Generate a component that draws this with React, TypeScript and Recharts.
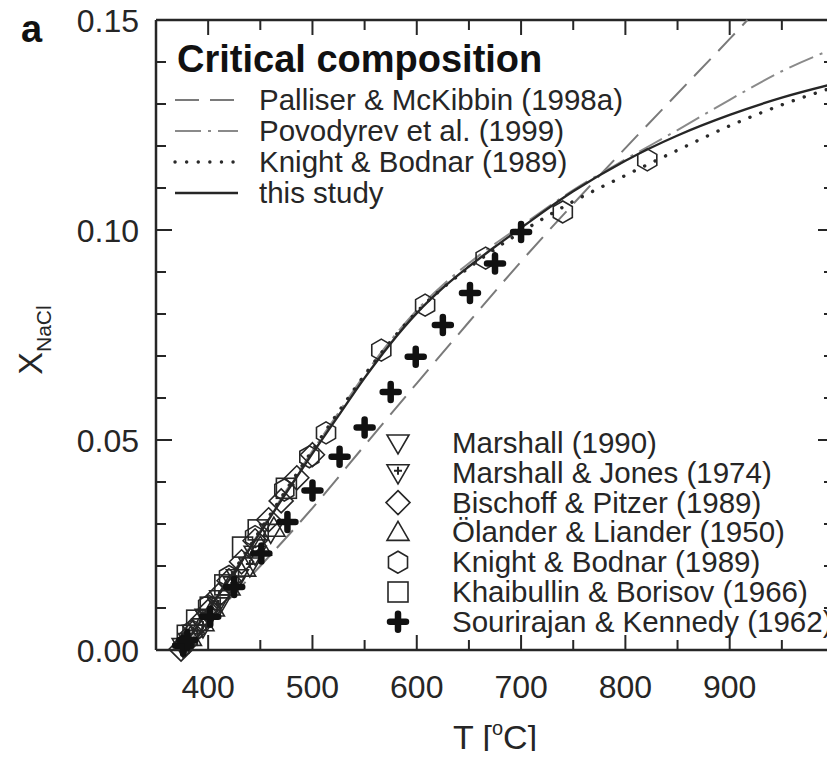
import { ComposedChart, Line, Scatter, XAxis, YAxis, ReferenceLine } from "recharts";

const FONT = "'Liberation Sans', Arial, Helvetica, sans-serif";
const INK = "#262626";

// plot box in page pixels
const W = 835;
const H = 759;
const BOX = { left: 156, right: 834, top: 20, bottom: 650 };

// axis ticks
const T_TICKS = [400, 450, 500, 550, 600, 650, 700, 750, 800, 850, 900, 950];
const T_LABELED = [400, 500, 600, 700, 800, 900];
const X_TICKS = [0, 0.01, 0.02, 0.03, 0.04, 0.05, 0.06, 0.07, 0.08, 0.09, 0.1, 0.11, 0.12, 0.13, 0.14, 0.15];
const X_LABELED = ["0.00", "0.05", "0.10", "0.15"];

// critical curves, T [°C] -> X_NaCl
const CURVE_T = [374, 400, 425, 450, 475, 500, 525, 550, 575, 600, 625, 650, 675, 700, 750, 800, 850, 900, 950, 1000];
const THIS_STUDY = [0, 0.0095, 0.0185, 0.028, 0.0375, 0.0468, 0.0558, 0.0648, 0.073, 0.0802, 0.0862, 0.0913, 0.096, 0.1005, 0.1092, 0.1165, 0.1225, 0.1274, 0.1315, 0.1348];
const POVODYREV = [0, 0.0096, 0.0188, 0.0284, 0.038, 0.0474, 0.0565, 0.0655, 0.0737, 0.0809, 0.0869, 0.0921, 0.0967, 0.101, 0.1095, 0.1168, 0.1238, 0.131, 0.1378, 0.1432];
const KNIGHT_FIT = [0, 0.0097, 0.019, 0.0286, 0.0382, 0.0476, 0.0567, 0.0655, 0.0735, 0.0805, 0.0862, 0.091, 0.0955, 0.0995, 0.1068, 0.113, 0.119, 0.1248, 0.1298, 0.134];
const PALLISER_T = [374, 400, 450, 500, 550, 600, 650, 700, 750, 800, 850, 900, 917];
const PALLISER = [0, 0.0068, 0.02, 0.0338, 0.0487, 0.0635, 0.0781, 0.0925, 0.1062, 0.1195, 0.1325, 0.1455, 0.15];

// experimental data
const MARSHALL90_T = [376, 386, 398, 412, 428, 445, 460];
const MARSHALL90_X = [0.0008, 0.004, 0.0078, 0.0122, 0.0172, 0.0228, 0.028];
const MARSHALL74_T = [382, 395, 410, 425, 440];
const MARSHALL74_X = [0.002, 0.0055, 0.0105, 0.0155, 0.02];
const BISCHOFF_T = [374, 378, 385, 392, 400, 410, 420, 432, 445, 458, 470, 485, 500];
const BISCHOFF_X = [0.0002, 0.0015, 0.004, 0.0065, 0.0092, 0.013, 0.0165, 0.021, 0.026, 0.031, 0.0355, 0.041, 0.0465];
const OLANDER_T = [383, 395, 405, 420, 435, 450, 463];
const OLANDER_X = [0.003, 0.0065, 0.01, 0.015, 0.0195, 0.0245, 0.029];
const KNIGHT_T = [385, 400, 420, 445, 473, 497, 513, 566, 608, 666, 740, 821];
const KNIGHT_X = [0.0045, 0.0105, 0.0175, 0.027, 0.0381, 0.046, 0.0517, 0.0714, 0.0821, 0.0933, 0.1043, 0.1167];
const KHAIBULLIN_T = [380, 389, 402, 416, 433, 448, 475];
const KHAIBULLIN_X = [0.0035, 0.0071, 0.0102, 0.0155, 0.0245, 0.0286, 0.0385];
const SOURIRAJAN_T = [376, 380, 402, 425, 451, 476, 500, 526, 550, 575, 599, 625, 651, 675, 700];
const SOURIRAJAN_X = [0.001, 0.0024, 0.0079, 0.015, 0.023, 0.0305, 0.038, 0.046, 0.053, 0.0614, 0.0698, 0.0774, 0.085, 0.092, 0.0995];

const zip = (ts: number[], xs: number[]) => ts.map((t, i) => ({ t, x: xs[i] }));

const OPEN = { stroke: INK, strokeWidth: 1.6, fill: "none" };

function Hexagon({ cx = 0, cy = 0 }: any) {
  const r = 11;
  const pts = [0, 1, 2, 3, 4, 5]
    .map((k) => {
      const a = Math.PI / 2 + (k * Math.PI) / 3;
      return `${cx + r * Math.cos(a)},${cy + r * Math.sin(a)}`;
    })
    .join(" ");
  return <polygon points={pts} {...OPEN} />;
}
function Square({ cx = 0, cy = 0 }: any) {
  return <rect x={cx - 10} y={cy - 10} width={20} height={20} {...OPEN} />;
}
function Diamond({ cx = 0, cy = 0 }: any) {
  return <polygon points={`${cx},${cy - 12} ${cx + 12},${cy} ${cx},${cy + 12} ${cx - 12},${cy}`} {...OPEN} />;
}
function TriUp({ cx = 0, cy = 0 }: any) {
  return <polygon points={`${cx},${cy - 11} ${cx + 11},${cy + 8} ${cx - 11},${cy + 8}`} {...OPEN} />;
}
function TriDown({ cx = 0, cy = 0 }: any) {
  return <polygon points={`${cx - 11},${cy - 8} ${cx + 11},${cy - 8} ${cx},${cy + 11}`} {...OPEN} />;
}
function TriDownPlus({ cx = 0, cy = 0 }: any) {
  return (
    <g>
      <polygon points={`${cx - 11},${cy - 8} ${cx + 11},${cy - 8} ${cx},${cy + 11}`} {...OPEN} />
      <path d={`M${cx - 4},${cy - 2}H${cx + 4}M${cx},${cy - 6}V${cy + 2}`} stroke={INK} strokeWidth={2} />
    </g>
  );
}
function Plus({ cx = 0, cy = 0 }: any) {
  return (
    <path
      d={`M${cx - 8},${cy}H${cx + 8}M${cx},${cy - 8}V${cy + 8}`}
      stroke="#111"
      strokeWidth={6.5}
      strokeLinecap="round"
    />
  );
}

const MARKER_SERIES = [
  { name: "Marshall (1990)", shape: TriDown, data: zip(MARSHALL90_T, MARSHALL90_X) },
  { name: "Marshall & Jones (1974)", shape: TriDownPlus, data: zip(MARSHALL74_T, MARSHALL74_X) },
  { name: "Bischoff & Pitzer (1989)", shape: Diamond, data: zip(BISCHOFF_T, BISCHOFF_X) },
  { name: "Ölander & Liander (1950)", shape: TriUp, data: zip(OLANDER_T, OLANDER_X) },
  { name: "Knight & Bodnar (1989)", shape: Hexagon, data: zip(KNIGHT_T, KNIGHT_X) },
  { name: "Khaibullin & Borisov (1966)", shape: Square, data: zip(KHAIBULLIN_T, KHAIBULLIN_X) },
  { name: "Sourirajan & Kennedy (1962)", shape: Plus, data: zip(SOURIRAJAN_T, SOURIRAJAN_X) },
];

const LINE_SERIES = [
  { name: "Palliser & McKibbin (1998a)", data: zip(PALLISER_T, PALLISER), stroke: "#7a7a7a", width: 2, dash: "24 11", cap: "butt" },
  { name: "Povodyrev et al. (1999)", data: zip(CURVE_T, POVODYREV), stroke: "#8a8a8a", width: 2, dash: "26 7 3 7", cap: "butt" },
  { name: "Knight & Bodnar (1989)", data: zip(CURVE_T, KNIGHT_FIT), stroke: "#2a2a2a", width: 3.4, dash: "0.1 11.5", cap: "round" },
  { name: "this study", data: zip(CURVE_T, THIS_STUDY), stroke: "#262626", width: 2.4, dash: undefined, cap: "butt" },
];

function XTick({ x, payload }: any) {
  const major = T_LABELED.includes(payload.value);
  const len = major ? 15 : 10;
  return (
    <g>
      <line x1={x} x2={x} y1={BOX.bottom} y2={BOX.bottom - len} stroke={INK} strokeWidth={2} />
      <line x1={x} x2={x} y1={BOX.top} y2={BOX.top + len} stroke={INK} strokeWidth={2} />
      {major && (
        <text x={x} y={698} textAnchor="middle" fontSize={32} fontFamily={FONT} fill={INK}>
          {payload.value}
        </text>
      )}
    </g>
  );
}

function YTick({ y, payload }: any) {
  const label = X_LABELED.find((s) => Math.abs(parseFloat(s) - payload.value) < 1e-9);
  const len = label ? 16 : 10;
  return (
    <g>
      <line x1={BOX.left} x2={BOX.left + len} y1={y} y2={y} stroke={INK} strokeWidth={2} />
      <line x1={BOX.right - len} x2={BOX.right} y1={y} y2={y} stroke={INK} strokeWidth={2} />
      {label && (
        <text x={139} y={y + 11.5} textAnchor="end" fontSize={32} fontFamily={FONT} fill={INK}>
          {label}
        </text>
      )}
    </g>
  );
}

function Overlay() {
  const lineRow = (i: number) => 100 + i * 31;
  const markRow = (i: number) => 443 + i * 29.8;
  return (
    <svg width={W} height={H} style={{ position: "absolute", left: 0, top: 0, pointerEvents: "none" }} fontFamily={FONT}>
      <text x={21} y={42} fontSize={38} fontWeight="bold" fill="#111">a</text>
      <text x={177} y={72} fontSize={38} fontWeight="bold" fill="#111">Critical composition</text>
      {LINE_SERIES.map((s, i) => (
        <g key={s.name}>
          <line
            x1={175}
            x2={238}
            y1={lineRow(i)}
            y2={lineRow(i)}
            stroke={s.stroke}
            strokeWidth={s.width}
            strokeDasharray={s.dash}
            strokeLinecap={s.cap as any}
          />
          <text x={259} y={lineRow(i) + 10} fontSize={29.5} fill={INK}>{s.name}</text>
        </g>
      ))}
      {MARKER_SERIES.map((s, i) => {
        const Shape = s.shape;
        return (
          <g key={s.name}>
            <Shape cx={398} cy={markRow(i)} />
            <text x={452} y={markRow(i) + 10} fontSize={29.5} fill={INK}>{s.name}</text>
          </g>
        );
      })}
      <text x={495} y={749} textAnchor="middle" fontSize={34} fill={INK}>
        T [<tspan fontSize={20} dy={-14}>o</tspan><tspan dy={14}>C]</tspan>
      </text>
      <text x={42} y={340} transform="rotate(-90 42 340)" textAnchor="middle" fontSize={34} fill={INK}>
        X<tspan fontSize={21} dy={9}>NaCl</tspan>
      </text>
    </svg>
  );
}

export default function App() {
  return (
    <div style={{ position: "relative", margin: -8, width: W, height: H, overflow: "hidden", background: "#fff" }}>
      <ComposedChart width={W} height={H} margin={{ top: BOX.top, right: W - BOX.right, bottom: 0, left: 56 }}>
        <XAxis
          type="number"
          dataKey="t"
          domain={[350, 1000]}
          ticks={T_TICKS}
          interval={0}
          tick={<XTick />}
          tickLine={false}
          tickSize={0}
          tickMargin={0}
          height={H - BOX.bottom}
          axisLine={{ stroke: INK, strokeWidth: 2.5 }}
        />
        <YAxis
          type="number"
          dataKey="x"
          domain={[0, 0.15]}
          ticks={X_TICKS}
          interval={0}
          tick={<YTick />}
          tickLine={false}
          tickSize={0}
          tickMargin={0}
          width={BOX.left - 56}
          axisLine={{ stroke: INK, strokeWidth: 2.5 }}
        />
        <ReferenceLine y={0.15} stroke={INK} strokeWidth={2.5} />
        <ReferenceLine x={1000} stroke={INK} strokeWidth={2.5} />
        {LINE_SERIES.map((s) => (
          <Line
            key={s.name}
            data={s.data}
            dataKey="x"
            type="monotone"
            stroke={s.stroke}
            strokeWidth={s.width}
            strokeDasharray={s.dash}
            strokeLinecap={s.cap as any}
            dot={false}
            activeDot={false}
            isAnimationActive={false}
          />
        ))}
        {MARKER_SERIES.map((s) => {
          const Shape = s.shape;
          return (
            <Scatter
              key={s.name}
              data={s.data}
              dataKey="x"
              shape={(p: any) => <Shape cx={p.cx} cy={p.cy} />}
              isAnimationActive={false}
            />
          );
        })}
      </ComposedChart>
      <Overlay />
    </div>
  );
}
